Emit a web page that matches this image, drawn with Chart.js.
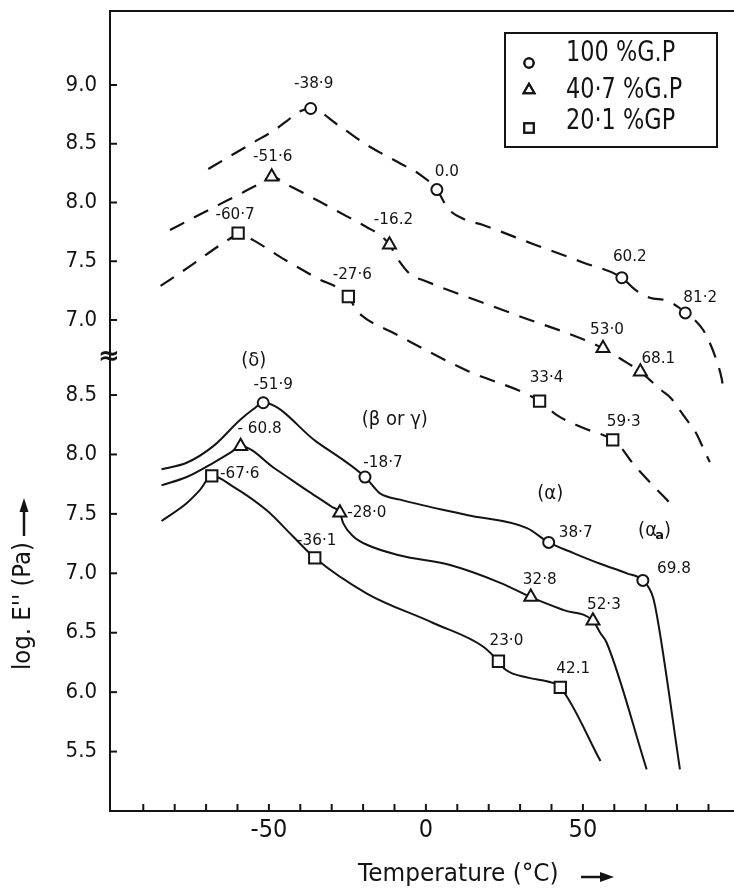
<!DOCTYPE html>
<html>
<head>
<meta charset="utf-8">
<script src="https://cdn.jsdelivr.net/npm/chart.js"></script>
<style>
  html, body { margin: 0; padding: 0; background: #fff; }
  #wrap { width: 734px; height: 891px; }
</style>
</head>
<body>
<div id="wrap"><canvas id="c" width="734" height="891"></canvas></div>
<script>
// ---- data (temperature in °C, log modulus) ----
// upper panel, dashed curves
const top100T = [-69.3, -62, -55, -48, -44, -40.5, -36.7, -28, -18.8, -8, -2, 3.5, 7, 12, 18, 34.3, 50, 62.4, 66.5, 71.3, 76.7, 80.4, 82.6, 86, 88.3, 90.5, 92.5, 94.2, 94.9];
const top100V = [8.285, 8.40, 8.51, 8.62, 8.70, 8.77, 8.80, 8.66, 8.49, 8.33, 8.24, 8.11, 7.95, 7.86, 7.81, 7.645, 7.49, 7.36, 7.26, 7.19, 7.165, 7.11, 7.06, 6.99, 6.915, 6.80, 6.66, 6.50, 6.38];
const top407T = [-81.5, -74, -66, -58, -53, -49.1, -44, -34, -25, -18.8, -14, -11.6, -8.2, -5, 0, 28, 56.4, 62, 68.3, 71.3, 75.1, 78.2, 80.9, 83.5, 86.2, 88.3, 90.4];
const top407V = [7.766, 7.87, 7.98, 8.09, 8.16, 8.22, 8.15, 8.01, 7.88, 7.79, 7.71, 7.64, 7.49, 7.39, 7.33, 7.05, 6.76, 6.67, 6.56, 6.49, 6.40, 6.33, 6.23, 6.135, 6.03, 5.91, 5.79];
const top201T = [-84.5, -75, -66, -62, -59.8, -55, -45.4, -35, -24.7, -22.5, -20.5, -10.3, 13, 36.2, 41.7, 50.2, 59.5, 62.3, 65, 69.2, 78.9];
const top201V = [7.29, 7.46, 7.63, 7.70, 7.74, 7.68, 7.52, 7.36, 7.20, 7.10, 7.04, 6.89, 6.57, 6.31, 6.19, 6.08, 5.98, 5.91, 5.81, 5.68, 5.41];

// upper panel, marked points and their temperature labels
const top100MarkT = [-36.7, 3.5, 62.4, 82.6];
const top100MarkV = [8.80, 8.11, 7.36, 7.06];
const top100Lbl = ['-38·9', '0.0', '60.2', '81·2'];
const top407MarkT = [-49.1, -11.6, 56.4, 68.3];
const top407MarkV = [8.22, 7.64, 6.76, 6.56];
const top407Lbl = ['-51·6', '-16.2', '53·0', '68.1'];
const top201MarkT = [-59.8, -24.7, 36.2, 59.5];
const top201MarkV = [7.74, 7.20, 6.31, 5.98];
const top201Lbl = ['-60·7', '-27·6', '33·4', '59·3'];

// lower panel, solid curves
const bot100T = [-84.2, -76.2, -67.7, -59.2, -55, -51.8, -35, -19.4, -16.7, -14.5, -8.2, 13, 32.2, 39.1, 47, 55.5, 64, 69.1, 72.3, 74, 80.9];
const bot100V = [7.875, 7.93, 8.07, 8.29, 8.38, 8.435, 8.11, 7.81, 7.73, 7.67, 7.62, 7.49, 7.38, 7.26, 7.17, 7.08, 7.0, 6.94, 6.80, 6.58, 5.35];
const bot407T = [-84.2, -76.2, -67.7, -62, -59.0, -48, -38, -30, -27.4, -26.3, -23.1, -18.8, -8.2, 7.7, 23.7, 33.4, 43.9, 53.2, 55.5, 57.5, 70.3];
const bot407V = [7.74, 7.81, 7.93, 8.02, 8.07, 7.88, 7.70, 7.56, 7.51, 7.42, 7.31, 7.24, 7.15, 7.07, 6.92, 6.80, 6.69, 6.60, 6.50, 6.42, 5.35];
const bot201T = [-84.2, -76.2, -72, -68.2, -61.4, -50.7, -42.3, -35.4, -18.8, 2.5, 18.4, 23.1, 25.3, 32.8, 38.8, 42.8, 55.6];
const bot201V = [7.44, 7.59, 7.70, 7.82, 7.73, 7.53, 7.31, 7.13, 6.83, 6.58, 6.38, 6.26, 6.19, 6.12, 6.09, 6.04, 5.42];

const bot100MarkT = [-51.8, -19.4, 39.1, 69.1];
const bot100MarkV = [8.435, 7.81, 7.26, 6.94];
const bot100Lbl = ['-51·9', '-18·7', '38·7', '69.8'];
const bot407MarkT = [-59.0, -27.4, 33.4, 53.2];
const bot407MarkV = [8.07, 7.51, 6.80, 6.60];
const bot407Lbl = ['- 60.8', '-28·0', '32·8', '52·3'];
const bot201MarkT = [-68.2, -35.4, 23.1, 42.8];
const bot201MarkV = [7.82, 7.13, 6.26, 6.04];
const bot201Lbl = ['-67·6', '-36·1', '23·0', '42.1'];

const legendNames = ['100 %G.P', '40·7 %G.P', '20·1 %GP'];
const xLabelTicks = [-50, 0, 50];
const xMinorTicks = [-90, -80, -70, -60, -50, -40, -30, -20, -10, 0, 10, 20, 30, 40, 50, 60, 70, 80, 90];
const yTopTicks = [7.0, 7.5, 8.0, 8.5, 9.0];
const yBotTicks = [5.5, 6.0, 6.5, 7.0, 7.5, 8.0, 8.5];

// ---- styling ----
const INK = '#141414';
const FONT = '"DejaVu Sans Condensed", "DejaVu Sans", sans-serif';
const marks = { gp100: ['circle', 5.5], gp407: ['triangle', 7.5], gp201: ['rect', 8] };

// label offsets (px) from each marker
const lblOffsets = {
  top100: [[3, -25], [10, -18], [8, -21], [15, -15]],
  top407: [[1, -20], [4, -25], [4, -18], [18, -13]],
  top201: [[-3, -18], [4, -22], [7, -23], [11, -18]],
  bot100: [[10, -18], [18, -14], [27, -10], [31, -12]],
  bot407: [[19, -17], [27, 0], [9, -17], [11, -16]],
  bot201: [[28, -2], [2, -17], [8, -20], [13, -19]]
};

function pts(T, V) { return T.map((t, i) => ({ x: t, y: V[i] })); }

function lineSet(T, V, axis, dashed) {
  return {
    showLine: true, data: pts(T, V), yAxisID: axis, clip: false,
    borderColor: INK, borderWidth: dashed ? 2.2 : 2,
    borderDash: dashed ? [16, 11] : [],
    pointRadius: 0, cubicInterpolationMode: 'monotone', order: 2
  };
}

function markSet(key, T, V, axis, gp, lbl) {
  return {
    key: key, lbl: lbl, showLine: false, data: pts(T, V), yAxisID: axis, clip: false,
    pointStyle: marks[gp][0], pointRadius: marks[gp][1],
    pointBorderWidth: 2, pointBorderColor: INK, pointBackgroundColor: '#fff', order: 1
  };
}

const datasets = [
  markSet('top100', top100MarkT, top100MarkV, 'yTop', 'gp100', top100Lbl),
  markSet('top407', top407MarkT, top407MarkV, 'yTop', 'gp407', top407Lbl),
  markSet('top201', top201MarkT, top201MarkV, 'yTop', 'gp201', top201Lbl),
  markSet('bot100', bot100MarkT, bot100MarkV, 'yBot', 'gp100', bot100Lbl),
  markSet('bot407', bot407MarkT, bot407MarkV, 'yBot', 'gp407', bot407Lbl),
  markSet('bot201', bot201MarkT, bot201MarkV, 'yBot', 'gp201', bot201Lbl),
  lineSet(top100T, top100V, 'yTop', true),
  lineSet(top407T, top407V, 'yTop', true),
  lineSet(top201T, top201V, 'yTop', true),
  lineSet(bot100T, bot100V, 'yBot', false),
  lineSet(bot407T, bot407V, 'yBot', false),
  lineSet(bot201T, bot201V, 'yBot', false)
];

function txt(ctx, s, x, y, font, align, sx) {
  ctx.save();
  ctx.font = font;
  ctx.fillStyle = INK;
  ctx.textAlign = align || 'center';
  ctx.textBaseline = 'middle';
  ctx.translate(x, y);
  ctx.scale(sx || 1, 1);
  ctx.fillText(s, 0, 0);
  ctx.restore();
}

function seg(ctx, x1, y1, x2, y2) {
  ctx.beginPath();
  ctx.moveTo(x1, y1);
  ctx.lineTo(x2, y2);
  ctx.stroke();
}

// inward ticks, point labels, phase notes, legend, titles
const extras = {
  id: 'extras',
  afterDatasetsDraw(chart) {
    const ctx = chart.ctx;
    const xs = chart.scales.x, yt = chart.scales.yTop, yb = chart.scales.yBot;
    ctx.save();
    ctx.strokeStyle = INK;
    ctx.lineWidth = 2;
    xMinorTicks.forEach(v => {
      const px = xs.getPixelForValue(v);
      seg(ctx, px, xs.top, px, xs.top - 7);
    });
    yTopTicks.forEach(v => {
      const py = yt.getPixelForValue(v);
      seg(ctx, yt.right, py, yt.right + 7, py);
    });
    yBotTicks.forEach(v => {
      const py = yb.getPixelForValue(v);
      seg(ctx, yb.right, py, yb.right + 7, py);
    });

    // axis break mark
    txt(ctx, '≈', yt.right - 1, yt.bottom, 'bold 26px "DejaVu Sans"', 'center', 1);

    // marker labels
    chart.data.datasets.forEach((ds, i) => {
      if (!ds.lbl) return;
      const meta = chart.getDatasetMeta(i);
      meta.data.forEach((p, j) => {
        const o = lblOffsets[ds.key][j];
        txt(ctx, ds.lbl[j], p.x + o[0], p.y + o[1], '16px "DejaVu Sans"', 'center', 0.95);
      });
    });

    // relaxation notes
    const nf = '20px "DejaVu Sans"';
    txt(ctx, '(δ)', xs.getPixelForValue(-54.8), yb.getPixelForValue(8.79), nf, 'center', 0.9);
    txt(ctx, '(β or γ)', xs.getPixelForValue(-9.9), yb.getPixelForValue(8.29), nf, 'center', 0.9);
    txt(ctx, '(α)', xs.getPixelForValue(39.6), yb.getPixelForValue(7.67), nf, 'center', 0.9);
    const ax = xs.getPixelForValue(72.5), ay = yb.getPixelForValue(7.36);
    txt(ctx, '(α', ax - 6, ay, nf, 'center', 0.9);
    txt(ctx, 'a', ax + 6, ay + 5, 'bold 13px "DejaVu Sans"', 'center', 1);
    txt(ctx, ')', ax + 14, ay, nf, 'center', 0.9);

    // legend box
    ctx.fillStyle = '#fff';
    ctx.fillRect(505, 33, 212, 114);
    ctx.strokeRect(505, 33, 212, 114);
    const rowsText = [54, 91, 122];
    const rowsMark = [63, 90, 128];
    const styles = ['gp100', 'gp407', 'gp201'];
    styles.forEach((k, i) => {
      Chart.helpers.drawPoint(ctx, {
        pointStyle: marks[k][0], radius: marks[k][1] * 0.85, borderWidth: 2
      }, 529, rowsMark[i]);
      ctx.fillStyle = '#fff';
      ctx.strokeStyle = INK;
      ctx.stroke();
      txt(ctx, legendNames[i], 566, rowsText[i], '28px "DejaVu Sans"', 'left', 0.8);
    });

    // axis titles
    txt(ctx, 'Temperature (°C)', 358, 874, '25px "DejaVu Sans"', 'left', 0.93);
    ctx.lineWidth = 2.5;
    seg(ctx, 581, 877, 603, 877);
    ctx.beginPath();
    ctx.moveTo(614, 877); ctx.lineTo(600, 872); ctx.lineTo(600, 882); ctx.closePath();
    ctx.fillStyle = INK; ctx.fill();

    ctx.save();
    ctx.translate(24, 606);
    ctx.rotate(-Math.PI / 2);
    txt(ctx, "log. E'' (Pa)", 0, 0, '24px "DejaVu Sans"', 'center', 0.95);
    ctx.restore();
    seg(ctx, 24, 536, 24, 510);
    ctx.beginPath();
    ctx.moveTo(24, 498); ctx.lineTo(19.5, 512); ctx.lineTo(28.5, 512); ctx.closePath();
    ctx.fill();
    ctx.restore();
  }
};

const plainGrid = { display: false, drawTicks: false };
const edge = { display: true, color: INK, width: 2 };

// fixed axis boxes so the plot frame sits where the figure's frame is
function fixX(h) {
  return s => { s.height = h; s.paddingLeft = 0; s.paddingRight = 0; };
}
function fixY(s) { s.width = 110; s.paddingTop = 0; s.paddingBottom = 0; }

new Chart(document.getElementById('c'), {
  type: 'scatter',
  data: { datasets: datasets },
  options: {
    responsive: false,
    animation: false,
    events: [],
    layout: { autoPadding: false, padding: { left: 0, right: 1, top: 0, bottom: 0 } },
    plugins: { legend: { display: false }, tooltip: { enabled: false } },
    scales: {
      x: {
        type: 'linear', position: 'bottom', min: -100.6, max: 97.8,
        grid: plainGrid, border: edge,
        afterBuildTicks: s => { s.ticks = xLabelTicks.map(v => ({ value: v })); },
        afterFit: fixX(80),
        ticks: { color: INK, padding: 4, font: { family: FONT, size: 25 }, callback: v => String(v) }
      },
      xTop: {
        type: 'linear', position: 'top', min: -100.6, max: 97.8,
        grid: plainGrid, border: edge,
        ticks: { display: false },
        afterFit: fixX(11)
      },
      yBot: {
        type: 'linear', position: 'left', min: 5.0, max: 8.82,
        stack: 'logE', stackWeight: 454,
        grid: plainGrid, border: edge,
        afterBuildTicks: s => { s.ticks = yBotTicks.map(v => ({ value: v })); },
        afterFit: fixY,
        ticks: { color: INK, padding: 13, font: { family: FONT, size: 22 }, callback: v => v.toFixed(1) }
      },
      yTop: {
        type: 'linear', position: 'left', min: 6.685, max: 9.63,
        stack: 'logE', stackWeight: 346,
        grid: plainGrid, border: edge,
        afterBuildTicks: s => { s.ticks = yTopTicks.map(v => ({ value: v })); },
        afterFit: fixY,
        ticks: { color: INK, padding: 13, font: { family: FONT, size: 22 }, callback: v => v.toFixed(1) }
      }
    }
  },
  plugins: [extras]
});
</script>
</body>
</html>
